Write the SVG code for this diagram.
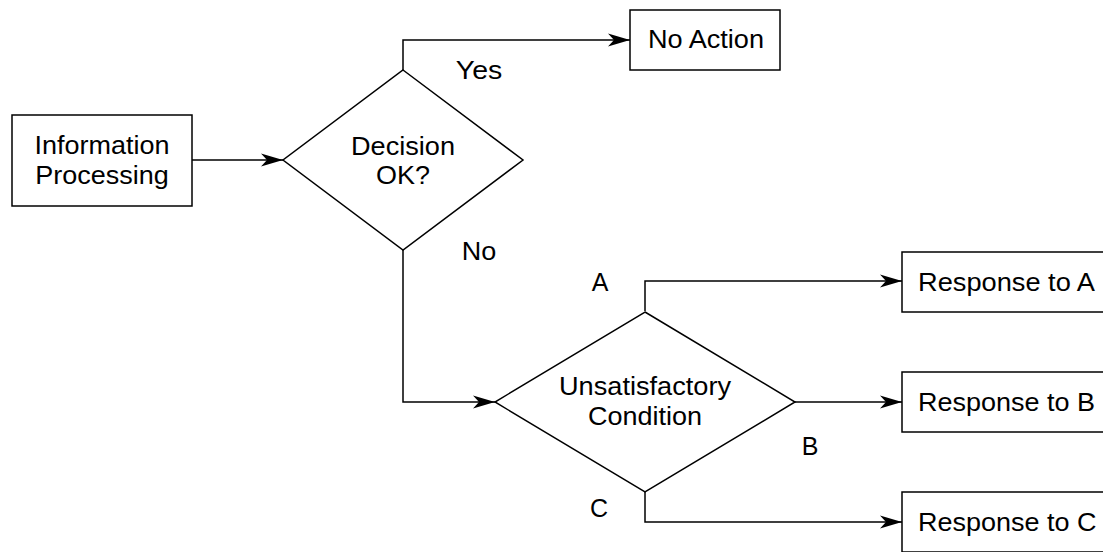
<svg xmlns="http://www.w3.org/2000/svg" width="1103" height="552" viewBox="0 0 1103 552">
<style>
.box{fill:#fff;stroke:#000;stroke-width:1.5}
.ln{fill:none;stroke:#000;stroke-width:1.5;marker-end:url(#ah)}
text{font-family:"Liberation Sans",Arial,sans-serif;font-size:25px;fill:#000}
.c{text-anchor:middle}
</style>
<defs>
<marker id="ah" markerUnits="userSpaceOnUse" markerWidth="24" markerHeight="14" refX="22" refY="7" orient="auto">
<path d="M0,0.5 L22,7 L0,13.5 L6,7 Z" fill="#000"/>
</marker>
</defs>
<rect width="1103" height="552" fill="#fff"/>
<g id="connectors">
<path class="ln" d="M192,160 H283"/>
<path class="ln" d="M403,70 V40 H630"/>
<path class="ln" d="M403,250 V402 H495"/>
<path class="ln" d="M645,311 V281 H902"/>
<path class="ln" d="M795,402 H902"/>
<path class="ln" d="M645,492 V522 H902"/>
</g>
<g id="info">
<rect class="box" x="12" y="115" width="180" height="91"/>
<text class="c" x="102" y="154" textLength="135" lengthAdjust="spacingAndGlyphs">Information</text>
<text class="c" x="102" y="184" textLength="133.5" lengthAdjust="spacingAndGlyphs">Processing</text>
</g>
<g id="decision">
<polygon class="box" points="403,70 523,160 403,250 283,160"/>
<text class="c" x="403" y="155" textLength="104" lengthAdjust="spacingAndGlyphs">Decision</text>
<text class="c" x="403" y="184" textLength="54" lengthAdjust="spacingAndGlyphs">OK?</text>
</g>
<g id="noaction">
<rect class="box" x="630" y="10" width="150" height="60"/>
<text class="c" x="706" y="48" textLength="116" lengthAdjust="spacingAndGlyphs">No Action</text>
</g>
<g id="unsat">
<polygon class="box" points="645,312 795,402 645,492 495,402"/>
<text class="c" x="645" y="395" textLength="172" lengthAdjust="spacingAndGlyphs">Unsatisfactory</text>
<text class="c" x="645" y="425" textLength="114" lengthAdjust="spacingAndGlyphs">Condition</text>
</g>
<g id="respA">
<rect class="box" x="902" y="252" width="215" height="60"/>
<text x="918" y="291" textLength="177" lengthAdjust="spacingAndGlyphs">Response to A</text>
</g>
<g id="respB">
<rect class="box" x="902" y="372" width="215" height="60"/>
<text x="918" y="411" textLength="177" lengthAdjust="spacingAndGlyphs">Response to B</text>
</g>
<g id="respC">
<rect class="box" x="902" y="492" width="215" height="60"/>
<text x="918" y="531" textLength="178.5" lengthAdjust="spacingAndGlyphs">Response to C</text>
</g>
<g id="labels">
<text class="c" x="479" y="79" textLength="46.5" lengthAdjust="spacingAndGlyphs">Yes</text>
<text class="c" x="479" y="260" textLength="34.5" lengthAdjust="spacingAndGlyphs">No</text>
<text class="c" x="600" y="291">A</text>
<text class="c" x="810" y="455">B</text>
<text class="c" x="599" y="517">C</text>
</g>
</svg>
